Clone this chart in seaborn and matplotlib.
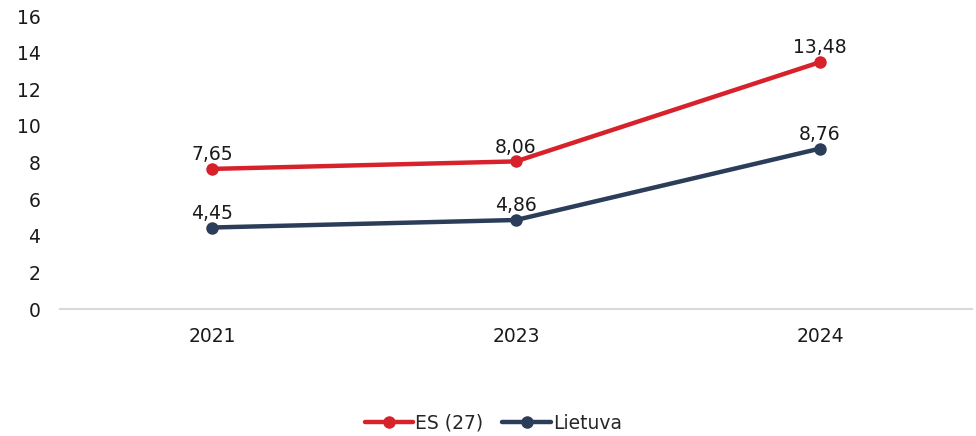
import matplotlib
matplotlib.use("Agg")
import matplotlib.pyplot as plt
import seaborn as sns
import pandas as pd

years = ["2021", "2023", "2024"]
es_values = [7.65, 8.06, 13.48]
lt_values = [4.45, 4.86, 8.76]
series_names = ["ES (27)", "Lietuva"]
colors = ["#D7222C", "#2B3D59"]
y_ticks = [0, 2, 4, 6, 8, 10, 12, 14, 16]

sns.set_theme(style="white")
plt.rcParams["font.family"] = ["DejaVu Sans"]

df = pd.DataFrame({
    "year": years * 2,
    "value": es_values + lt_values,
    "series": [series_names[0]] * 3 + [series_names[1]] * 3,
})

fig = plt.figure(figsize=(9.76, 4.36), dpi=100)
ax = fig.add_axes([60 / 976, 127 / 436, 912 / 976, 293 / 436])

sns.lineplot(data=df, x="year", y="value", hue="series", palette=colors,
             marker="o", markersize=9, markeredgewidth=0, linewidth=3.2,
             ax=ax, sort=False)

for name, vals, c in zip(series_names, [es_values, lt_values], colors):
    for i, v in enumerate(vals):
        ax.annotate(f"{v:.2f}".replace(".", ","), (i, v), xytext=(0, 3.5),
                    textcoords="offset points", ha="center", va="bottom",
                    fontsize=13.5, color="#1a1a1a")

ax.set_xlim(-0.5, 2.5)
ax.set_ylim(0, 16)
ax.set_yticks(y_ticks)
ax.set_xlabel("")
ax.set_ylabel("")
ax.tick_params(axis="both", length=0, labelsize=13.5, colors="#1a1a1a")
ax.tick_params(axis="x", pad=13)
ax.tick_params(axis="y", pad=14)
for s in ["top", "right", "left"]:
    ax.spines[s].set_visible(False)
ax.spines["bottom"].set_color("#d9d9d9")
ax.spines["bottom"].set_linewidth(1.5)

leg = ax.legend(loc="center", bbox_to_anchor=(0.475, -0.39), ncol=2,
                frameon=False, fontsize=13.5, handlelength=2.6,
                handletextpad=0.1, columnspacing=1.0)

fig.savefig("out.png", dpi=100)
